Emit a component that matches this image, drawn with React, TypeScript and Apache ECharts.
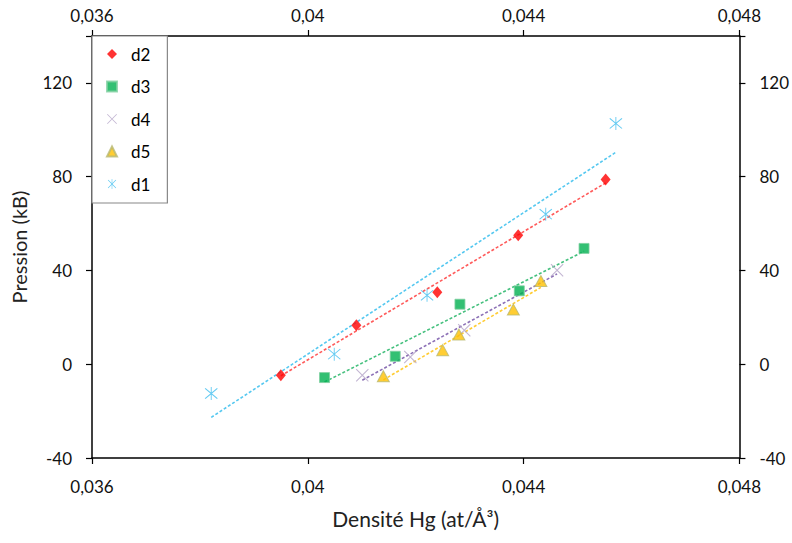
import React, { useEffect, useRef } from "react";
import * as echarts from "echarts";

const seriesNames = ["d1", "d2", "d3", "d4", "d5"];
const legendOrder = ["d2", "d3", "d4", "d5", "d1"];

const d1X = [0.03821, 0.04049, 0.04221, 0.04441, 0.04571];
const d1Y = [-12.5, 4.3, 29.4, 64.0, 102.7];
const d2X = [0.0395, 0.0409, 0.0424, 0.0439, 0.04552];
const d2Y = [-4.7, 16.6, 30.7, 55.0, 78.8];
const d3X = [0.04031, 0.04162, 0.04282, 0.04392, 0.04512];
const d3Y = [-5.7, 3.4, 25.6, 31.3, 49.4];
const d4X = [0.04101, 0.0419, 0.0429, 0.04462];
const d4Y = [-4.7, 3.1, 14.5, 40.1];
const d5X = [0.0414, 0.0425, 0.0428, 0.04381, 0.04432];
const d5Y = [-5.1, 6.0, 12.7, 23.3, 35.5];

const xTicks = [0.036, 0.04, 0.044, 0.048];
const yTicks = [-40, 0, 40, 80, 120];

const X_PATH = "path://M0,1.2 L1.2,0 L20,18.8 L18.8,20 Z M18.8,0 L20,1.2 L1.2,20 L0,18.8 Z";
const STAR_PATH =
  "path://M0,1.2 L1.2,0 L20,18.8 L18.8,20 Z M18.8,0 L20,1.2 L1.2,20 L0,18.8 Z M9.3,-2 L10.7,-2 L10.7,22 L9.3,22 Z";

function trend(xs: number[], ys: number[]) {
  const n = xs.length;
  const mx = xs.reduce((a, b) => a + b, 0) / n;
  const my = ys.reduce((a, b) => a + b, 0) / n;
  let sxy = 0;
  let sxx = 0;
  for (let i = 0; i < n; i++) {
    sxy += (xs[i] - mx) * (ys[i] - my);
    sxx += (xs[i] - mx) * (xs[i] - mx);
  }
  const b = sxy / sxx;
  const a = my - b * mx;
  const x0 = Math.min(...xs);
  const x1 = Math.max(...xs);
  return [
    [x0, a + b * x0],
    [x1, a + b * x1],
  ];
}

const zip = (xs: number[], ys: number[]) => xs.map((x, i) => [x, ys[i]]);

const FONT = "Lato, 'Open Sans', sans-serif";

export default function App() {
  const ref = useRef<HTMLDivElement>(null);
  useEffect(() => {
    if (!ref.current) return;
    const chart = echarts.init(ref.current, undefined, { renderer: "svg" });

    const defs = [
      { name: "d1", xs: d1X, ys: d1Y, symbol: STAR_PATH, size: [13, 13], color: "#3FBEEF", line: "#55C8F0", border: undefined },
      { name: "d2", xs: d2X, ys: d2Y, symbol: "diamond", size: [10, 12], color: "#FF0000", line: "#FF5A5A", border: undefined },
      { name: "d3", xs: d3X, ys: d3Y, symbol: "rect", size: [10, 10], color: "#00B050", line: "#45C07E", border: "#7FD0A0" },
      { name: "d4", xs: d4X, ys: d4Y, symbol: X_PATH, size: [13, 13], color: "#B3A2C7", line: "#8B6FB5", border: undefined },
      { name: "d5", xs: d5X, ys: d5Y, symbol: "triangle", size: [12, 11], color: "#FFC000", line: "#FFCC33", border: "#B8B870" },
    ];

    const series: any[] = [];
    defs.forEach((d) => {
      series.push({
        name: d.name + " trend",
        type: "line",
        data: trend(d.xs, d.ys),
        showSymbol: false,
        symbol: "none",
        silent: true,
        lineStyle: { color: d.line, width: 1.6, type: [3, 2] },
        z: 1,
      });
    });
    defs.forEach((d) => {
      series.push({
        name: d.name,
        type: "scatter",
        data: zip(d.xs, d.ys),
        symbol: d.symbol,
        symbolSize: d.size,
        itemStyle: {
          color: d.color,
          borderColor: d.border || d.color,
          borderWidth: d.border ? 1 : 0,
        },
        z: 3,
      });
    });

    const xFmt = (v: number) => String(+v.toFixed(3)).replace(".", ",");
    const yFmt = (v: number) => (yTicks.indexOf(v) >= 0 ? String(v) : "");

    const axisCommon = {
      axisLine: { show: true, onZero: false, lineStyle: { color: "#000", width: 1.5 } },
      axisTick: { show: true, length: 6, lineStyle: { color: "#000", width: 1.2 } },
      splitLine: { show: false },
    };

    const lbl = { fontSize: 17, color: "#111", fontFamily: FONT };

    chart.setOption({
      animation: false,
      backgroundColor: "#fff",
      textStyle: { fontFamily: FONT },
      grid: { left: 92, right: 50, top: 36, bottom: 85, containLabel: false },
      legend: {
        data: legendOrder,
        orient: "vertical",
        left: 92,
        top: 36,
        padding: [9.5, 17, 10.5, 14],
        itemGap: 15.5,
        itemWidth: 10,
        itemHeight: 10,
        borderColor: "#888",
        borderWidth: 1.2,
        borderRadius: 0,
        backgroundColor: "#fff",
        textStyle: { fontSize: 17, lineHeight: 17, color: "#000", fontFamily: FONT, padding: [0, 0, 0, 9] },
      },
      xAxis: [
        {
          type: "value",
          position: "bottom",
          min: xTicks[0],
          max: xTicks[xTicks.length - 1],
          interval: 0.004,
          name: "Densité Hg (at/Å³)",
          nameLocation: "middle",
          nameGap: 50,
          nameTextStyle: { fontSize: 21, color: "#222", fontFamily: FONT },
          axisLabel: { formatter: xFmt, margin: 20, ...lbl },
          ...axisCommon,
        },
        {
          type: "value",
          position: "top",
          min: xTicks[0],
          max: xTicks[xTicks.length - 1],
          interval: 0.004,
          axisLabel: { formatter: xFmt, margin: 12, ...lbl },
          ...axisCommon,
        },
      ],
      yAxis: [
        {
          type: "value",
          position: "left",
          min: -40,
          max: 140,
          interval: 40,
          name: "Pression (kB)",
          nameLocation: "middle",
          nameGap: 63,
          nameRotate: 90,
          nameTextStyle: { fontSize: 20, color: "#222", fontFamily: FONT },
          axisLabel: { formatter: yFmt, margin: 20, ...lbl },
          ...axisCommon,
        },
        {
          type: "value",
          position: "right",
          min: -40,
          max: 140,
          interval: 40,
          axisLabel: { formatter: yFmt, margin: 20, ...lbl },
          ...axisCommon,
        },
      ],
      series,
    });
    return () => chart.dispose();
  }, []);
  return <div ref={ref} style={{ width: 792, height: 543, position: "absolute", left: 0, top: 0 }} />;
}
